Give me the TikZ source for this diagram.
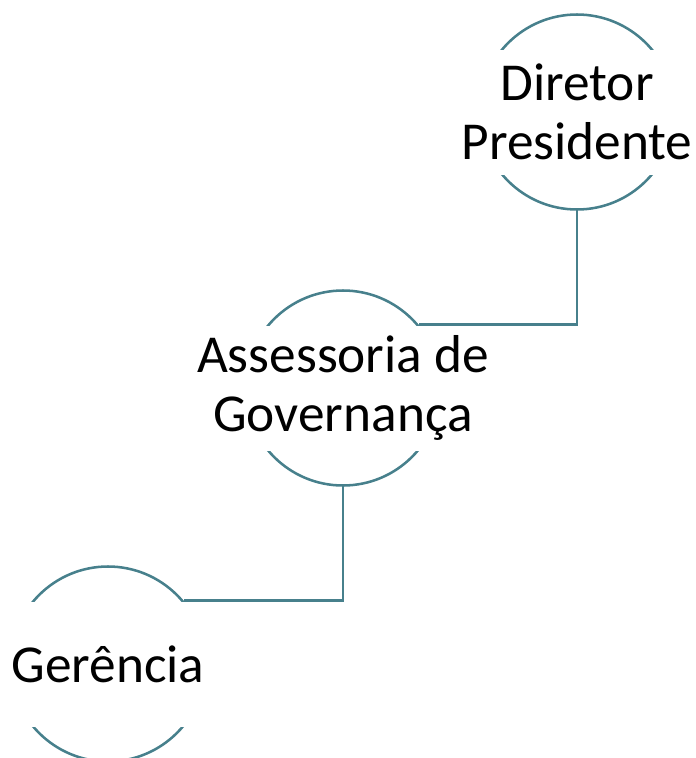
\documentclass[tikz,border=0pt]{standalone}
\usepackage{fontspec}
\setmainfont{Carlito}
\definecolor{ringteal}{RGB}{71,128,140}
\tikzset{
  ring/.style={circle,draw=ringteal,line width=1.9pt,minimum size=146.25pt,inner sep=0pt},
  labelbox/.style={fill=white,align=center,minimum width=150pt,minimum height=93.75pt,
    inner sep=1pt,font=\fontsize{40}{44}\selectfont},
  link/.style={draw=ringteal,line width=1.9pt}
}
% one step: ring with its white label band
\newcommand{\drawstep}[4]{
  \node[ring] (#1) at (#2,#3) {};
  \node[labelbox] (#1t) at (#2,#3) {#4};
}

\begin{document}
\begin{tikzpicture}[x=0.75pt,y=-0.75pt]
\useasboundingbox (0,0) rectangle (696,758);

\drawstep{dp}{577}{112}{Diretor\\Presidente}
\drawstep{ag}{343}{388}{Assessoria de\\Governança}
\drawstep{ge}{108}{664}{Gerência}

\draw[link] (dp.south) |- (ag.40);
\draw[link] (ag.south) |- (ge.40);
\end{tikzpicture}
\end{document}
